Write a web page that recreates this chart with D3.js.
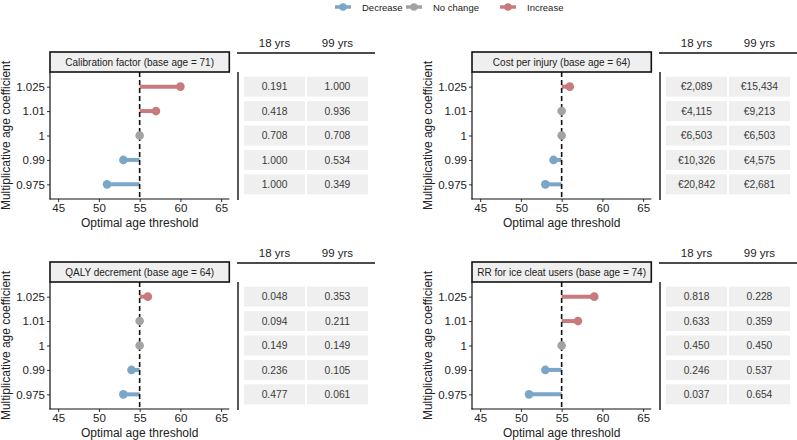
<!DOCTYPE html>
<html>
<head>
<meta charset="utf-8">
<script src="https://cdn.jsdelivr.net/npm/d3@7"></script>
<style>
  body { margin: 0; background: #fff; }
  svg { font-family: "Liberation Sans", Arial, sans-serif; }
</style>
</head>
<body>
<div id="chart-area"></div>
<script>
const WIDTH = 797
const HEIGHT = 440

// data
const coefficients = ["1.025", "1.01", "1", "0.99", "0.975"]
const baseline = 55
const panelTitles = [
  "Calibration factor (base age = 71)",
  "Cost per injury (base age = 64)",
  "QALY decrement (base age = 64)",
  "RR for ice cleat users (base age = 74)"
]
const calibrationAges = [60, 57, 55, 53, 51]
const costAges = [56, 55, 55, 54, 53]
const qalyAges = [56, 55, 55, 54, 53]
const rrAges = [59, 57, 55, 53, 51]

const tableColumns = ["18 yrs", "99 yrs"]
const calibration18 = ["0.191", "0.418", "0.708", "1.000", "1.000"]
const calibration99 = ["1.000", "0.936", "0.708", "0.534", "0.349"]
const cost18 = ["€2,089", "€4,115", "€6,503", "€10,326", "€20,842"]
const cost99 = ["€15,434", "€9,213", "€6,503", "€4,575", "€2,681"]
const qaly18 = ["0.048", "0.094", "0.149", "0.236", "0.477"]
const qaly99 = ["0.353", "0.211", "0.149", "0.105", "0.061"]
const rr18 = ["0.818", "0.633", "0.450", "0.246", "0.037"]
const rr99 = ["0.228", "0.359", "0.450", "0.537", "0.654"]

const xTicks = [45, 50, 55, 60, 65]
const legendLabels = ["Decrease", "No change", "Increase"]
const COLORS = { "Decrease": "#7aa6c8", "No change": "#a3a3a3", "Increase": "#c87a7d" }

const panels = [
  { title: panelTitles[0], ages: calibrationAges, t18: calibration18, t99: calibration99, ox: 0, oy: 0 },
  { title: panelTitles[1], ages: costAges, t18: cost18, t99: cost99, ox: 422, oy: 0 },
  { title: panelTitles[2], ages: qalyAges, t18: qaly18, t99: qaly99, ox: 0, oy: 210 },
  { title: panelTitles[3], ages: rrAges, t18: rr18, t99: rr99, ox: 422, oy: 210 }
]

const svg = d3.select("#chart-area").append("svg")
  .attr("width", WIDTH)
  .attr("height", HEIGHT)

function status(age) {
  if (age < baseline) return "Decrease"
  if (age > baseline) return "Increase"
  return "No change"
}

// legend
const legend = svg.append("g").attr("transform", "translate(335, 7)")
const legendX = [0, 71, 165]
legendLabels.forEach((lab, i) => {
  const lg = legend.append("g").attr("transform", `translate(${legendX[i]}, 0)`)
  lg.append("line")
    .attr("x1", 0).attr("x2", 16)
    .attr("stroke", COLORS[lab]).attr("stroke-width", 3.5)
  lg.append("circle")
    .attr("cx", 8).attr("r", 3.8)
    .attr("fill", COLORS[lab])
  lg.append("text")
    .attr("x", 27).attr("y", 3.5)
    .attr("font-size", "9.5px")
    .attr("fill", "#222")
    .text(lab)
})

const PLOT = { LEFT: 50, RIGHT: 229.3, STRIP_TOP: 52, TOP: 72, BOTTOM: 199 }

panels.forEach(p => {
  const g = svg.append("g").attr("transform", `translate(${p.ox}, ${p.oy})`)

  const x = d3.scaleLinear().domain([44, 66]).range([PLOT.LEFT, PLOT.RIGHT])
  const y = d3.scalePoint().domain(coefficients).range([PLOT.TOP, PLOT.BOTTOM]).padding(0.6)

  // strip
  g.append("rect")
    .attr("x", PLOT.LEFT).attr("y", PLOT.STRIP_TOP)
    .attr("width", PLOT.RIGHT - PLOT.LEFT).attr("height", PLOT.TOP - PLOT.STRIP_TOP)
    .attr("fill", "#efefef").attr("stroke", "#111").attr("stroke-width", 1.6)
  g.append("text")
    .attr("x", (PLOT.LEFT + PLOT.RIGHT) / 2).attr("y", PLOT.STRIP_TOP + 13.5)
    .attr("text-anchor", "middle").attr("font-size", "10px").attr("fill", "#222")
    .text(p.title)

  // axes
  const yAxis = g.append("g")
    .attr("transform", `translate(${PLOT.LEFT}, 0)`)
    .call(d3.axisLeft(y).tickSize(3).tickPadding(2))
  const xAxis = g.append("g")
    .attr("transform", `translate(0, ${PLOT.BOTTOM})`)
    .call(d3.axisBottom(x).tickValues(xTicks).tickSize(3).tickPadding(2))
  ;[xAxis, yAxis].forEach(a => {
    a.select(".domain").remove()
    a.selectAll("line").attr("stroke", "#333")
    a.selectAll("text").attr("font-size", "11.5px").attr("fill", "#222")
      .attr("font-family", "Liberation Sans, Arial, sans-serif")
  })
  g.append("line")
    .attr("x1", PLOT.LEFT).attr("x2", PLOT.LEFT)
    .attr("y1", PLOT.TOP).attr("y2", PLOT.BOTTOM + 0.5)
    .attr("stroke", "#111").attr("stroke-width", 1.2)
  g.append("line")
    .attr("x1", PLOT.LEFT - 0.5).attr("x2", PLOT.RIGHT)
    .attr("y1", PLOT.BOTTOM).attr("y2", PLOT.BOTTOM)
    .attr("stroke", "#111").attr("stroke-width", 1.2)

  // axis titles
  g.append("text")
    .attr("x", (PLOT.LEFT + PLOT.RIGHT) / 2).attr("y", PLOT.BOTTOM + 28)
    .attr("text-anchor", "middle").attr("font-size", "12px").attr("fill", "#222")
    .text("Optimal age threshold")
  g.append("text")
    .attr("transform", `translate(10, ${(PLOT.TOP + PLOT.BOTTOM) / 2}) rotate(-90)`)
    .attr("text-anchor", "middle").attr("font-size", "12px").attr("fill", "#222")
    .text("Multiplicative age coefficient")

  const rows = coefficients.map((c, i) => ({ coef: c, age: p.ages[i], v18: p.t18[i], v99: p.t99[i] }))

  // segments and points
  g.selectAll(".seg").data(rows.filter(d => d.age !== baseline)).enter().append("line")
    .attr("class", "seg")
    .attr("x1", x(baseline)).attr("x2", d => x(d.age))
    .attr("y1", d => y(d.coef)).attr("y2", d => y(d.coef))
    .attr("stroke", d => COLORS[status(d.age)]).attr("stroke-width", 4)

  g.append("line")
    .attr("x1", x(baseline)).attr("x2", x(baseline))
    .attr("y1", PLOT.TOP).attr("y2", PLOT.BOTTOM)
    .attr("stroke", "#111").attr("stroke-width", 1.6)
    .attr("stroke-dasharray", "5,3")

  g.selectAll(".pt").data(rows).enter().append("circle")
    .attr("class", "pt")
    .attr("cx", d => x(d.age)).attr("cy", d => y(d.coef))
    .attr("r", 4.3)
    .attr("fill", d => COLORS[status(d.age)])

  // table
  const vx = 238
  const col = d3.scaleBand().domain(tableColumns).range([vx + 6, vx + 130]).paddingInner(0.03)
  g.append("line")
    .attr("x1", vx - 1).attr("x2", vx + 137)
    .attr("y1", PLOT.STRIP_TOP + 1).attr("y2", PLOT.STRIP_TOP + 1)
    .attr("stroke", "#111").attr("stroke-width", 1.4)
  g.selectAll(".hdr").data(tableColumns).enter().append("text")
    .attr("class", "hdr")
    .attr("x", d => col(d) + col.bandwidth() / 2).attr("y", PLOT.STRIP_TOP - 5)
    .attr("text-anchor", "middle").attr("font-size", "11.5px").attr("fill", "#222")
    .text(d => d)
  g.append("line")
    .attr("x1", vx).attr("x2", vx)
    .attr("y1", PLOT.TOP).attr("y2", PLOT.BOTTOM + 1)
    .attr("stroke", "#111").attr("stroke-width", 1.4)

  const cells = []
  rows.forEach(r => {
    cells.push({ coef: r.coef, colName: tableColumns[0], text: r.v18 })
    cells.push({ coef: r.coef, colName: tableColumns[1], text: r.v99 })
  })
  g.selectAll(".cell").data(cells).enter().append("rect")
    .attr("class", "cell")
    .attr("x", d => col(d.colName)).attr("y", d => y(d.coef) - 10)
    .attr("width", col.bandwidth()).attr("height", 20)
    .attr("fill", "#efefef")
  g.selectAll(".cellText").data(cells).enter().append("text")
    .attr("class", "cellText")
    .attr("x", d => col(d.colName) + col.bandwidth() / 2).attr("y", d => y(d.coef) + 3.6)
    .attr("text-anchor", "middle").attr("font-size", "10.3px").attr("fill", "#3a3a3a")
    .text(d => d.text)
})
</script>
</body>
</html>
